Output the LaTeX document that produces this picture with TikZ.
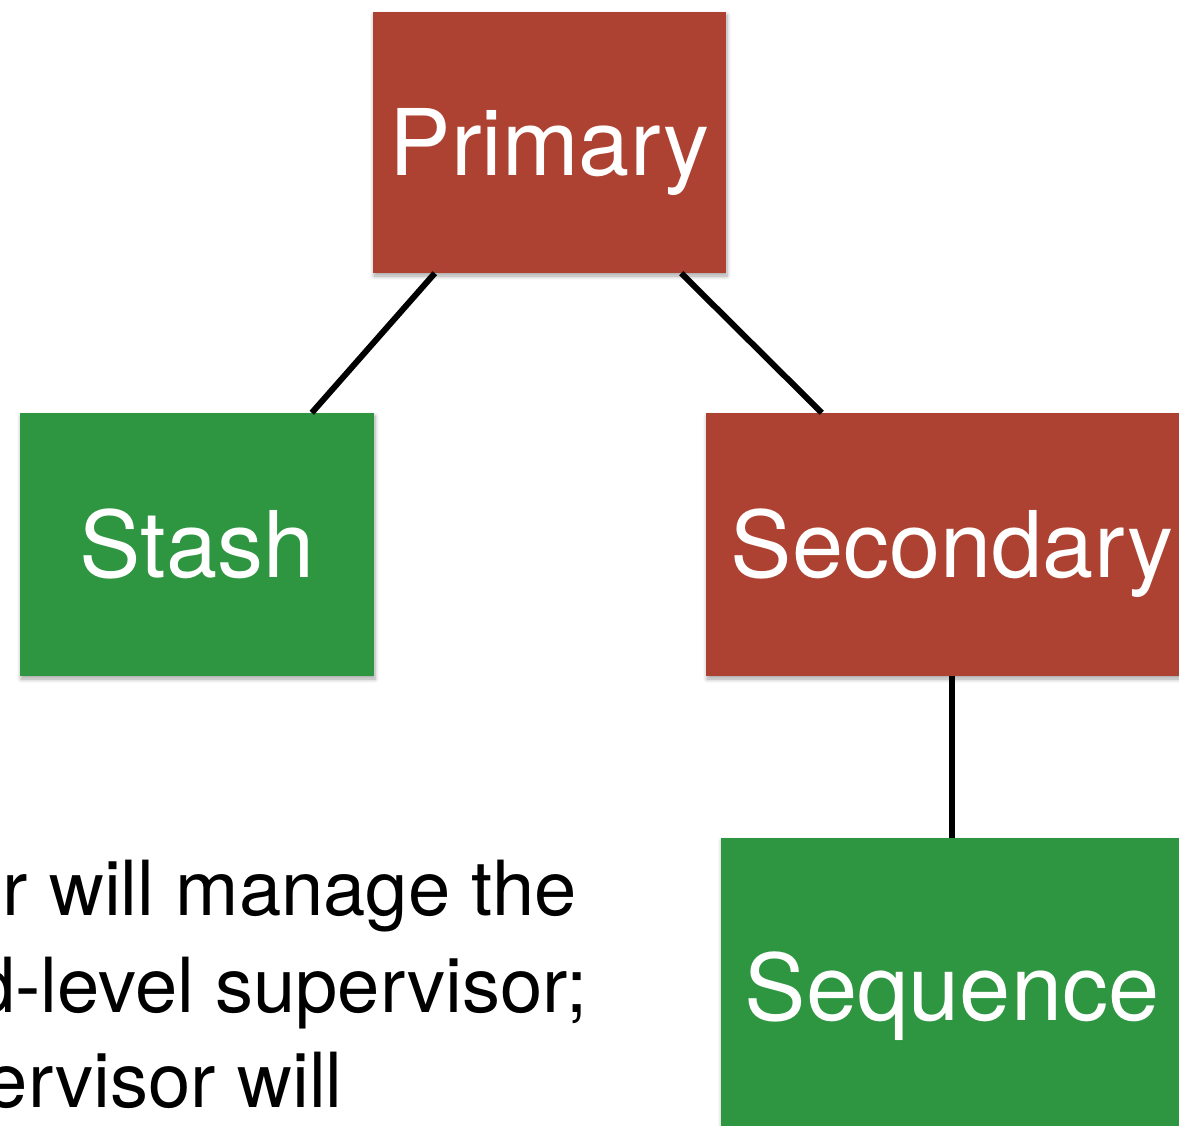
\documentclass[tikz,border=0pt]{standalone}
\usepackage{fontspec}
\setmainfont{TeX Gyre Heros}
\usetikzlibrary{shadows.blur}
\definecolor{boxred}{HTML}{AE4232}
\definecolor{boxgreen}{HTML}{2E9540}
\tikzset{
  card/.style={rectangle, inner sep=0pt, text=white,
    font=\fontsize{92}{92}\selectfont, text height=66pt, text depth=0pt,
    blur shadow={shadow xshift=1pt, shadow yshift=-3pt, shadow blur radius=4pt,
      shadow opacity=35, shadow blur steps=6}},
  redcard/.style={card, fill=boxred},
  greencard/.style={card, fill=boxgreen},
  link/.style={line width=6pt, black},
  note/.style={font=\fontsize{76}{76}\selectfont, inner sep=0pt, anchor=base east}
}
\begin{document}
\begin{tikzpicture}[x=1pt, y=-1pt]
  \useasboundingbox (0,0) rectangle (1179,1126);
  \begin{scope}
    \clip (0,0) rectangle (1179,1126);
    % supervision tree
    \node[redcard, minimum width=353pt, minimum height=261pt] (primary) at (549.5,142.5) {Primary};
    \node[greencard, minimum width=354pt, minimum height=263pt] (stash) at (197,544.5) {Stash};
    \node[redcard, minimum width=492pt, minimum height=263pt] (secondary) at (952,544.5) {Secondary};
    \node[greencard, minimum width=462pt, minimum height=298pt] (sequence) at (952,987) {Sequence};
    \draw[link] ([xshift=62pt]primary.south west) -- ([xshift=292pt]stash.north west);
    \draw[link] ([xshift=-45pt]primary.south east) -- ([xshift=116pt]secondary.north west);
    \draw[link] (secondary.south) -- (sequence.north);
    % explanatory text, running off the left edge
    \node[note] (l1) at (577,915) {r will manage the};
    \node[note] (l2) at (588,1012) {d-level supervisor;};
    \node[note] (l3) at (343,1107) {ervisor will};
  \end{scope}
\end{tikzpicture}
\end{document}
